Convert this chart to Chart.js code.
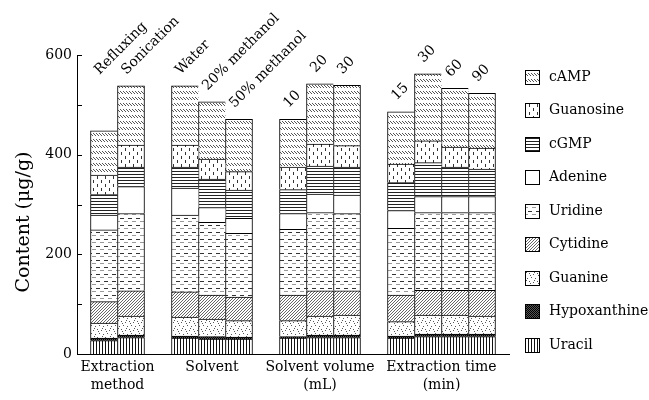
<!DOCTYPE html>
<html><head><meta charset="utf-8">
<script src="https://cdn.jsdelivr.net/npm/chart.js@4.4.1/dist/chart.umd.min.js"></script>
<style>html,body{margin:0;padding:0;background:#fff}</style>
</head><body>
<div style="width:649px;height:400px;position:relative"><canvas id="c"></canvas></div>
<script>
// ---- data ----
const barLabels = ['Refluxing','Sonication','Water','20% methanol','50% methanol','10','20','30','15','30','60','90'];
const groupNames = [['Extraction','method'],['Solvent'],['Solvent volume','(mL)'],['Extraction time','(min)']];
const groupSizes = [2,3,3,4];
const uracil       = [27,33,32,30,30,32,33,33,32,35,35,35];
const hypoxanthine = [5,5,4,5,4,3,5,5,4,5,5,5];
const guanine      = [30,38,38,35,33,32,38,40,29,38,38,36];
const cytidine     = [43,51,51,48,47,51,51,49,53,50,50,52];
const uridine      = [144,155,154,146,128,132,157,155,134,156,156,156];
const adenine      = [30,54,54,30,30,32,37,37,36,32,32,32];
const cGMP         = [41,39,42,57,57,48,56,56,56,68,59,55];
const guanosine    = [39,44,44,40,37,45,44,43,37,44,40,42];
const cAMP         = [89,119,119,115,105,96,121,121,105,134,118,110];
const yTickLabels  = [0,200,400,600];

// ---- categories with gaps ----
const categories = [''];
const barIdx = [], groupOf = [];
let k = 0;
groupSizes.forEach((n, g) => {
  for (let j = 0; j < n; j++) { barIdx.push(categories.length); groupOf.push(g); categories.push(barLabels[k++]); }
  categories.push('');
});
function expand(arr){ const out = categories.map(()=>null); barIdx.forEach((ci,i)=>{out[ci]=arr[i];}); return out; }

// ---- patterns ----
function makePattern(w, h, draw){
  const c = document.createElement('canvas'); c.width = w; c.height = h;
  const x = c.getContext('2d'); x.fillStyle = '#fff'; x.fillRect(0,0,w,h);
  draw(x);
  return x.createPattern(c, 'repeat');
}
function px(x, pts, col){ x.fillStyle = col; pts.forEach(p=>x.fillRect(p[0],p[1],p[2]||1,p[3]||1)); }
const P = {
  cAMP: makePattern(3,6,x=>px(x,[[0,1],[1,2],[2,3]],'#555')),
  guanosine: makePattern(8,8,x=>px(x,[[1,0,1,3],[5,4,1,3]],'#333')),
  cGMP: makePattern(4,3,x=>px(x,[[0,0,4,1]],'#222')),
  adenine: '#ffffff',
  uridine: makePattern(8,7,x=>{px(x,[[0,1,4,1]],'#333');px(x,[[4,4,4,1]],'#999');}),
  cytidine: makePattern(3,3,x=>px(x,[[2,0],[1,1],[0,2]],'#666')),
  guanine: makePattern(8,8,x=>px(x,[[1,1],[5,2],[3,5],[7,6],[2,3],[6,0]],'#555')),
  hypoxanthine: makePattern(2,2,x=>{x.fillStyle='#555';x.fillRect(0,0,2,2);px(x,[[0,0],[1,1]],'#000');}),
  uracil: makePattern(3,1,x=>px(x,[[0,0]],'#111'))
};

const series = [
  {label:'Uracil', data:uracil, fill:P.uracil},
  {label:'Hypoxanthine', data:hypoxanthine, fill:P.hypoxanthine},
  {label:'Guanine', data:guanine, fill:P.guanine},
  {label:'Cytidine', data:cytidine, fill:P.cytidine},
  {label:'Uridine', data:uridine, fill:P.uridine},
  {label:'Adenine', data:adenine, fill:P.adenine},
  {label:'cGMP', data:cGMP, fill:P.cGMP},
  {label:'Guanosine', data:guanosine, fill:P.guanosine},
  {label:'cAMP', data:cAMP, fill:P.cAMP}
];

const FONT = '"DejaVu Serif", serif';

function bw(ctx){
  const bi = barIdx.indexOf(ctx.dataIndex);
  if (bi < 0) return 0;
  const last = bi === barIdx.length-1 || groupOf[bi+1] !== groupOf[bi];
  return {top:1, left:1, right: last?1:0, bottom:0};
}

const extras = {
  id:'extras',
  afterDraw(chart){
    const ctx = chart.ctx, ca = chart.chartArea, ys = chart.scales.y;
    ctx.save();
    // inward y ticks
    ctx.strokeStyle = '#000'; ctx.lineWidth = 1;
    for (let v = 0; v <= 600; v += 100){
      const y = Math.round(ys.getPixelForValue(v)) + 0.5;
      ctx.beginPath(); ctx.moveTo(ca.left, y); ctx.lineTo(ca.left + 5, y); ctx.stroke();
    }
    // y title
    ctx.fillStyle = '#000';
    ctx.font = '19px ' + FONT;
    ctx.textAlign = 'center'; ctx.textBaseline = 'middle';
    ctx.translate(24, 222); ctx.rotate(-Math.PI/2);
    ctx.fillText('Content (\u03bcg/g)', 0, 0);
    ctx.setTransform(1,0,0,1,0,0);
    // bar labels (rotated)
    const top = chart.getDatasetMeta(series.length-1).data;
    ctx.font = '14px ' + FONT; ctx.textAlign = 'left'; ctx.textBaseline = 'alphabetic';
    barIdx.forEach((ci, i) => {
      const el = top[ci];
      const left = el.x - el.width/2, right = el.x + el.width/2;
      let ty = el.y;
      const ox = left + 9;
      const w = ctx.measureText(barLabels[i]).width * Math.SQRT1_2;
      if (i+1 < barIdx.length && groupOf[i+1] === groupOf[i] && ox + w > right) {
        const nt = top[barIdx[i+1]].y;
        if (nt < ty) ty = nt;
      }
      ctx.save();
      ctx.translate(ox, ty - 11); ctx.rotate(-Math.PI/4);
      ctx.fillText(barLabels[i], 0, 0);
      ctx.restore();
    });
    // group labels
    ctx.font = '14px ' + FONT; ctx.textAlign = 'center'; ctx.textBaseline = 'middle';
    groupNames.forEach((lines, g) => {
      const idx = barIdx.filter((_, i) => groupOf[i] === g);
      const cx = (top[idx[0]].x + top[idx[idx.length-1]].x) / 2;
      lines.forEach((t, li) => ctx.fillText(t, cx, 367 + li*18));
    });
    // legend
    ctx.textAlign = 'left'; ctx.textBaseline = 'middle'; ctx.font = '14px ' + FONT;
    const rev = series.slice().reverse();
    rev.forEach((s, i) => {
      const cy = 77 + i*33.5;
      const by = Math.round(cy - 7.5);
      ctx.fillStyle = s.fill; ctx.fillRect(525, by, 15, 15);
      ctx.strokeStyle = '#000'; ctx.strokeRect(525.5, by + 0.5, 14, 14);
      ctx.fillStyle = '#000'; ctx.fillText(s.label, 549, cy);
    });
    ctx.restore();
  }
};

new Chart(document.getElementById('c'), {
  type:'bar',
  data:{
    labels: categories,
    datasets: series.map(s => ({
      label: s.label, data: expand(s.data), backgroundColor: s.fill,
      borderColor:'#000', borderWidth: bw, borderSkipped:false,
      barPercentage:1, categoryPercentage:1
    }))
  },
  options:{
    responsive:true, maintainAspectRatio:false, animation:false,
    layout:{padding:{left:0, right:140, top:55, bottom:0}},
    plugins:{legend:{display:false}, tooltip:{enabled:false}},
    scales:{
      x:{
        stacked:true, offset:false,
        grid:{display:false, drawTicks:false},
        ticks:{display:false},
        border:{display:true, color:'#000', width:1},
        afterFit(s){ s.height = 46; }
      },
      y:{
        stacked:true, min:0, max:600,
        grid:{display:false, drawTicks:false},
        border:{display:true, color:'#000', width:1},
        ticks:{stepSize:100, padding:5, color:'#000', font:{family:'DejaVu Serif', size:14},
          callback:(v)=> yTickLabels.includes(v) ? String(v) : ''},
        afterFit(s){ s.width = 77; }
      }
    }
  },
  plugins:[extras]
});
</script>
</body></html>
